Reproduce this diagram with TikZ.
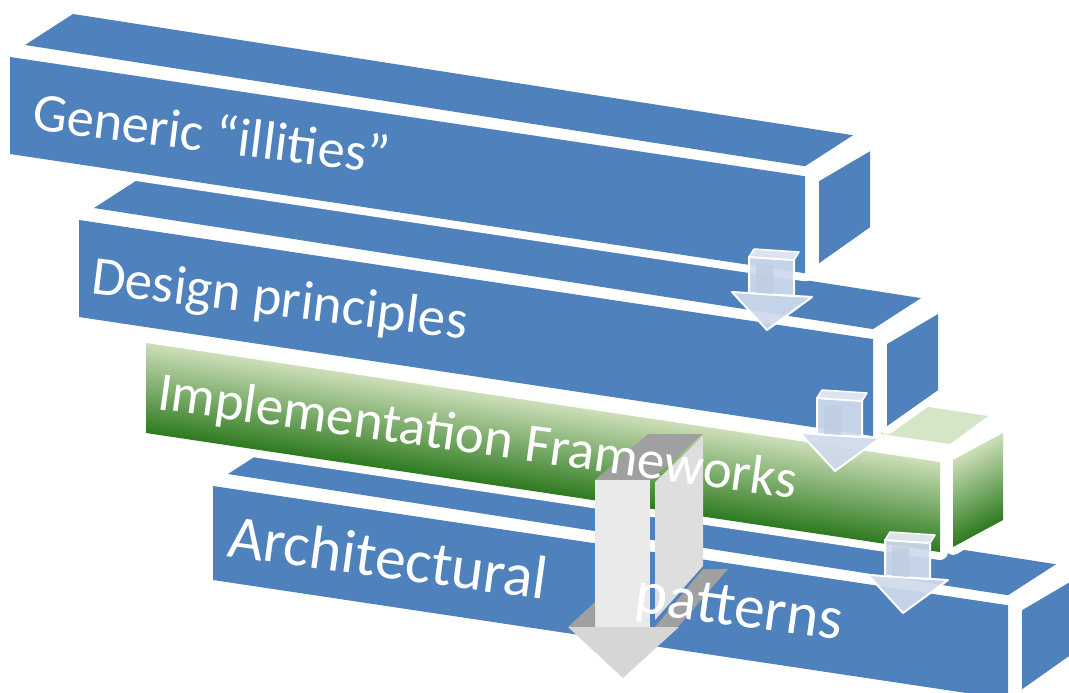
\documentclass[tikz,border=0pt]{standalone}
\usepackage{fontspec}
\setmainfont{Carlito}
\definecolor{barblue}{HTML}{4F81BD}
\definecolor{gtopc}{HTML}{D4E6C5}
\definecolor{glight}{HTML}{CCDFB8}
\definecolor{gmid}{HTML}{8DB96D}
\definecolor{gdark}{HTML}{2D7A1F}
\definecolor{arrfill}{HTML}{CFDAEC}
\definecolor{arrcap}{HTML}{E4EAF4}
\definecolor{arrdeep}{HTML}{BFCDE4}
\definecolor{bgdark}{HTML}{A0A0A0}
\definecolor{bgfront}{HTML}{EAEAEA}
\definecolor{bgside}{HTML}{DEDEDE}
\definecolor{bghead}{HTML}{D6D6D6}
\tikzset{
  halo/.style={fill=white, draw=white, line width=16pt, line join=round},
  bartext/.style={text=white, anchor=base west, inner sep=0pt, outer sep=0pt},
  sarrow/.style={fill=arrfill, draw=white, line width=2pt, line join=round, fill opacity=0.92},
  sarrowcap/.style={fill=arrcap, draw=white, line width=1.5pt, line join=round, fill opacity=0.95},
}
\newcommand{\bluebar}[4]{%
  \pgfmathsetmacro{\bR}{#1+#3}%
  \pgfmathsetmacro{\bT}{#2+0.15*#3}%
  \path[halo] (#1,#2) -- (\bR,\bT) -- (\bR,\bT+#4) -- (#1,#2+#4) -- cycle;
  \path[halo] (#1+15,#2-12) -- (\bR,\bT-10) -- (\bR+48,\bT-41) -- (#1+63,#2-43) -- cycle;
  \path[halo] (\bR+14,\bT+5) -- (\bR+65,\bT-25) -- (\bR+65,\bT+#4-46) -- (\bR+14,\bT+#4-10) -- cycle;
  \fill[barblue] (#1,#2) -- (\bR,\bT) -- (\bR,\bT+#4) -- (#1,#2+#4) -- cycle;
  \fill[barblue] (#1+15,#2-12) -- (\bR,\bT-10) -- (\bR+48,\bT-41) -- (#1+63,#2-43) -- cycle;
  \fill[barblue] (\bR+14,\bT+5) -- (\bR+65,\bT-25) -- (\bR+65,\bT+#4-46) -- (\bR+14,\bT+#4-10) -- cycle;
}
\newcommand{\smallarrow}[2]{%
  \path[sarrow] (#1-17,#2+43) -- (#1+63,#2+48) -- (#1+18,#2+81) -- cycle;
  \path[sarrow] (#1,#2+8) -- (#1+45,#2+11) -- (#1+45,#2+47) -- (#1,#2+44) -- cycle;
  \fill[arrdeep, fill opacity=0.8] (#1+7,#2+15) -- (#1+24,#2+16) -- (#1+24,#2+45) -- (#1+7,#2+44) -- cycle;
  \path[sarrowcap] (#1,#2+8) -- (#1+5,#2) -- (#1+50,#2+3) -- (#1+45,#2+11) -- cycle;
}
\begin{document}
\begin{tikzpicture}[x=1pt,y=-1pt]
\useasboundingbox (0,0) rectangle (1069,693);
\clip (0,0) rectangle (1069,693);
% bar 4 (Architectural patterns)
\bluebar{213}{486}{795}{94}
% bar 3 (green)
\path[halo] (146,343) -- (940,462) -- (940,552) -- (146,433) -- cycle;
\path[halo] (160,330) -- (950,444) -- (988,416) -- (208,298) -- cycle;
\path[halo] (953,460) -- (1003,433) -- (1003,517) -- (953,547) -- cycle;
\fill[gtopc] (160,330) -- (950,444) -- (988,416) -- (208,298) -- cycle;
\begin{scope}[transform canvas={shift={(146,343)},yslant=-0.15}]
  \shade[top color=glight, middle color=gmid, bottom color=gdark] (0,0) rectangle (794,90);
\end{scope}
\begin{scope}[transform canvas={shift={(953,460)},yslant=0.54}]
  \shade[top color=glight, middle color=gmid, bottom color=gdark] (0,0) rectangle (50,87);
\end{scope}
% bar 2
\bluebar{79}{220}{794}{97}
% bar 1
\bluebar{10}{57}{795}{97}
% small arrows
\smallarrow{749}{249}
\smallarrow{817}{390}
\smallarrow{885}{532}
% big grey arrow
\fill[bgdark] (595,480) -- (650,480) -- (703,434) -- (648,434) -- cycle;
\fill[bgfront] (595,480) rectangle (650,627);
\fill[bgside] (655,482) -- (703,436) -- (703,566) -- (655,620) -- cycle;
\fill[bgdark] (568,627) -- (595,602) -- (595,627) -- cycle;
\fill[bgdark] (655,627) -- (703,569) -- (728,569) -- (678,627) -- cycle;
\fill[bghead] (568,627) -- (679,627) -- (623,678) -- cycle;
% texts
\node[bartext, font=\fontsize{54.5}{54.5}\selectfont, rotate=-7] (t1) at (31,130) {Generic “illities”};
\node[bartext, font=\fontsize{55}{55}\selectfont, rotate=-7] (t2) at (90,293) {Design principles};
\node[bartext, font=\fontsize{55}{55}\selectfont, rotate=-8] (t3) at (156,409) {Implementation Frameworks};
\node[bartext, font=\fontsize{61.5}{61.5}\selectfont, rotate=-7.8] (t4) at (226,556) {Architectural\hspace{90pt}patterns};
\end{tikzpicture}
\end{document}
